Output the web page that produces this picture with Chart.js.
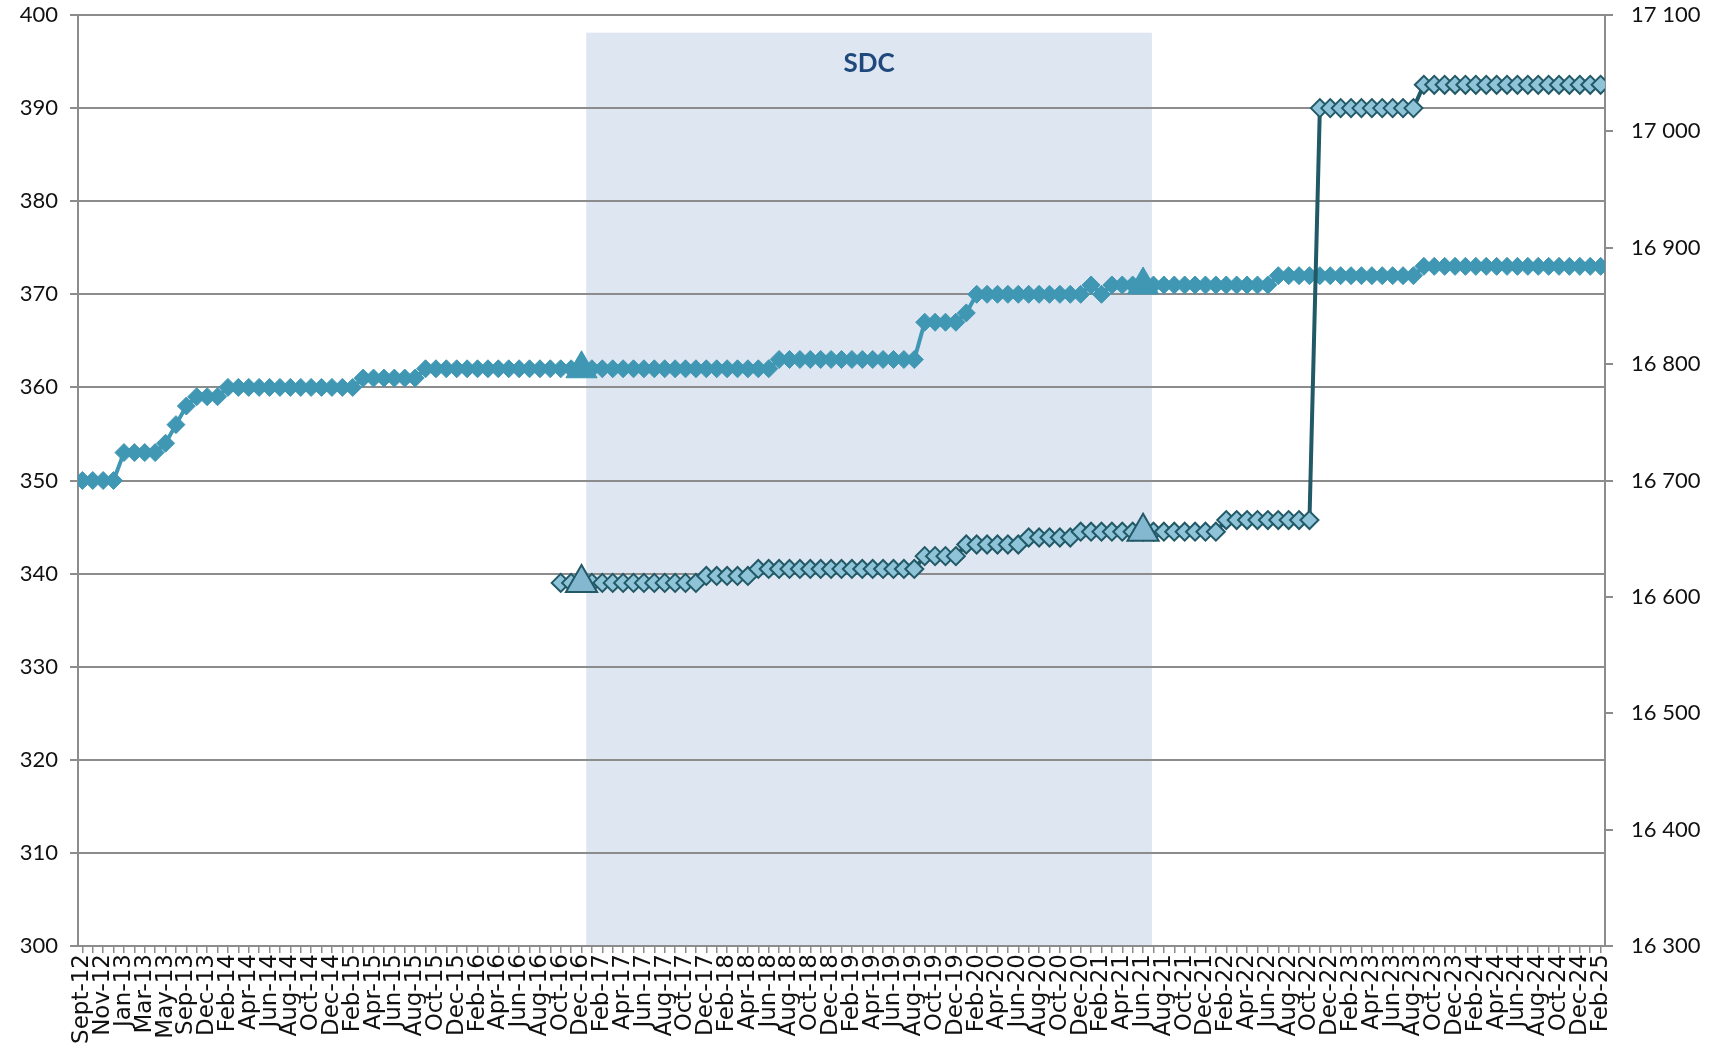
<!DOCTYPE html>
<html>
<head>
<meta charset="utf-8">
<script src="https://cdn.jsdelivr.net/npm/chart.js@4.4.1/dist/chart.umd.min.js"></script>
<style>
  html, body { margin: 0; padding: 0; background: #fff; }
  #wrap { width: 1711px; height: 1046px; }
</style>
</head>
<body>
<div id="wrap"><canvas id="chart"></canvas></div>
<script>
// month labels, one per data point (only every other one is printed)
const categories = [
    'Sept-12', 'Oct-12', 'Nov-12', 'Dec-12', 'Jan-13', 'Feb-13', 'Mar-13', 'Apr-13', 'May-13', 'Jul-13', 'Sep-13', 'Oct-13',
    'Dec-13',
    'Jan-14', 'Feb-14', 'Mar-14', 'Apr-14', 'May-14', 'Jun-14', 'Jul-14', 'Aug-14', 'Sep-14', 'Oct-14', 'Nov-14', 'Dec-14',
    'Jan-15', 'Feb-15', 'Mar-15', 'Apr-15', 'May-15', 'Jun-15', 'Jul-15', 'Aug-15', 'Sep-15', 'Oct-15', 'Nov-15', 'Dec-15',
    'Jan-16', 'Feb-16', 'Mar-16', 'Apr-16', 'May-16', 'Jun-16', 'Jul-16', 'Aug-16', 'Sep-16', 'Oct-16', 'Nov-16', 'Dec-16',
    'Jan-17', 'Feb-17', 'Mar-17', 'Apr-17', 'May-17', 'Jun-17', 'Jul-17', 'Aug-17', 'Sep-17', 'Oct-17', 'Nov-17', 'Dec-17',
    'Jan-18', 'Feb-18', 'Mar-18', 'Apr-18', 'May-18', 'Jun-18', 'Jul-18', 'Aug-18', 'Sep-18', 'Oct-18', 'Nov-18', 'Dec-18',
    'Jan-19', 'Feb-19', 'Mar-19', 'Apr-19', 'May-19', 'Jun-19', 'Jul-19', 'Aug-19', 'Sep-19', 'Oct-19', 'Nov-19', 'Dec-19',
    'Jan-20', 'Feb-20', 'Mar-20', 'Apr-20', 'May-20', 'Jun-20', 'Jul-20', 'Aug-20', 'Sep-20', 'Oct-20', 'Nov-20', 'Dec-20',
    'Jan-21', 'Feb-21', 'Mar-21', 'Apr-21', 'May-21', 'Jun-21', 'Jul-21', 'Aug-21', 'Sep-21', 'Oct-21', 'Nov-21', 'Dec-21',
    'Jan-22', 'Feb-22', 'Mar-22', 'Apr-22', 'May-22', 'Jun-22', 'Jul-22', 'Aug-22', 'Sep-22', 'Oct-22', 'Nov-22', 'Dec-22',
    'Jan-23', 'Feb-23', 'Mar-23', 'Apr-23', 'May-23', 'Jun-23', 'Jul-23', 'Aug-23', 'Sep-23', 'Oct-23', 'Nov-23', 'Dec-23',
    'Jan-24', 'Feb-24', 'Mar-24', 'Apr-24', 'May-24', 'Jun-24', 'Jul-24', 'Aug-24', 'Sep-24', 'Oct-24', 'Nov-24', 'Dec-24',
    'Jan-25', 'Feb-25'
];

// upper series, left axis
const upperValues = [
    350, 350, 350, 350, 353, 353, 353, 353, 354, 356, 358, 359,
    359,
    359, 360, 360, 360, 360, 360, 360, 360, 360, 360, 360, 360,
    360, 360, 361, 361, 361, 361, 361, 361, 362, 362, 362, 362,
    362, 362, 362, 362, 362, 362, 362, 362, 362, 362, 362, 362,
    362, 362, 362, 362, 362, 362, 362, 362, 362, 362, 362, 362,
    362, 362, 362, 362, 362, 362, 363, 363, 363, 363, 363, 363,
    363, 363, 363, 363, 363, 363, 363, 363, 367, 367, 367, 367,
    368, 370, 370, 370, 370, 370, 370, 370, 370, 370, 370, 370,
    371, 370, 371, 371, 371, 371, 371, 371, 371, 371, 371, 371,
    371, 371, 371, 371, 371, 371, 372, 372, 372, 372, 372, 372,
    372, 372, 372, 372, 372, 372, 372, 372, 373, 373, 373, 373,
    373, 373, 373, 373, 373, 373, 373, 373, 373, 373, 373, 373,
    373, 373
];

// lower series, right axis
const lowerValues = [
    null, null, null, null, null, null, null, null, null, null, null, null,
    null,
    null, null, null, null, null, null, null, null, null, null, null, null,
    null, null, null, null, null, null, null, null, null, null, null, null,
    null, null, null, null, null, null, null, null, null, 16612, 16612, 16612,
    16612, 16612, 16612, 16612, 16612, 16612, 16612, 16612, 16612, 16612, 16612, 16618,
    16618, 16618, 16618, 16618, 16624, 16624, 16624, 16624, 16624, 16624, 16624, 16624,
    16624, 16624, 16624, 16624, 16624, 16624, 16624, 16624, 16635, 16635, 16635, 16635,
    16645, 16645, 16645, 16645, 16645, 16645, 16651, 16651, 16651, 16651, 16651, 16656,
    16656, 16656, 16656, 16656, 16656, 16656, 16656, 16656, 16656, 16656, 16656, 16656,
    16656, 16666, 16666, 16666, 16666, 16666, 16666, 16666, 16666, 16666, 17020, 17020,
    17020, 17020, 17020, 17020, 17020, 17020, 17020, 17020, 17040, 17040, 17040, 17040,
    17040, 17040, 17040, 17040, 17040, 17040, 17040, 17040, 17040, 17040, 17040, 17040,
    17040, 17040
];

// points drawn as triangles on both series
const milestones = ['Dec-16', 'Jun-21'];

// shaded SDC period
const sdcLabel = 'SDC';
const sdcFrom = 'Dec-16';
const sdcTo = 'Jun-21';

const leftTicks = { min: 300, max: 400, step: 10 };
const rightTicks = { min: 16300, max: 17100, step: 100 };

const GRID = '#8c8c8c';
const TEAL = '#3f97b3';
const DARK = '#215967';
const LIGHT = '#8ec3d8';

function toPoints(values) {
    return values.map((v, i) => ({ x: i, y: v })).filter(p => p.y !== null);
}
function milestonePoints(values) {
    return milestones.map(m => {
        const i = categories.indexOf(m);
        return { x: i, y: values[i] };
    });
}
function spaced(v) {
    return String(v).replace(/\B(?=(\d{3})+(?!\d))/g, ' ');
}
// fixed size for an axis, and no extra room around it for its labels
function fixAxis(width, height) {
    return s => {
        if (width) s.width = width;
        if (height) s.height = height;
        s.paddingTop = 0;
        s.paddingBottom = 0;
    };
}

// draws the light blue SDC box under the grid
const sdcBand = {
    id: 'sdcBand',
    beforeDraw(chart) {
        const { ctx, chartArea, scales } = chart;
        const x0 = scales.x.getPixelForValue(categories.indexOf(sdcFrom) + 0.45);
        const x1 = scales.x.getPixelForValue(categories.indexOf(sdcTo) + 0.85);
        const yTop = scales.y.getPixelForValue(398.1);
        ctx.save();
        ctx.fillStyle = '#dee6f2';
        ctx.fillRect(x0, yTop, x1 - x0, chartArea.bottom - yTop);
        ctx.fillStyle = '#1f497d';
        ctx.font = 'bold 26px Lato';
        ctx.textAlign = 'center';
        ctx.textBaseline = 'middle';
        ctx.fillText(sdcLabel, (x0 + x1) / 2, yTop + 31);
        ctx.restore();
    }
};

const ctx = document.getElementById('chart').getContext('2d');
new Chart(ctx, {
    type: 'line',
    data: {
        datasets: [
            {
                // lower series triangles (on top)
                data: milestonePoints(lowerValues),
                yAxisID: 'y2',
                showLine: false,
                pointStyle: 'triangle',
                pointRadius: 18,
                pointBackgroundColor: '#84b8d0',
                pointBorderColor: DARK,
                pointBorderWidth: 2
            },
            {
                data: toPoints(lowerValues),
                yAxisID: 'y2',
                borderColor: DARK,
                borderWidth: 4,
                pointStyle: 'rectRot',
                pointRadius: 9,
                pointBackgroundColor: LIGHT,
                pointBorderColor: DARK,
                pointBorderWidth: 2
            },
            {
                data: milestonePoints(upperValues),
                yAxisID: 'y',
                showLine: false,
                pointStyle: 'triangle',
                pointRadius: 18,
                pointBackgroundColor: TEAL,
                pointBorderColor: TEAL,
                pointBorderWidth: 1
            },
            {
                data: toPoints(upperValues),
                yAxisID: 'y',
                borderColor: TEAL,
                borderWidth: 4,
                pointStyle: 'rectRot',
                pointRadius: 9,
                pointBackgroundColor: TEAL,
                pointBorderColor: TEAL,
                pointBorderWidth: 1
            }
        ]
    },
    options: {
        responsive: true,
        maintainAspectRatio: false,
        animation: false,
        layout: { autoPadding: false, padding: { top: 15, left: 0, right: 0, bottom: 0 } },
        plugins: { legend: { display: false }, tooltip: { enabled: false } },
        scales: {
            x: {
                type: 'linear',
                min: -0.42,
                max: categories.length - 1 + 0.42,
                afterFit: fixAxis(0, 100),
                grid: { drawOnChartArea: false, tickLength: 7, color: GRID, lineWidth: 1.5 },
                border: { color: GRID, width: 2 },
                ticks: {
                    stepSize: 1,
                    autoSkip: false,
                    maxTicksLimit: 1000,
                    includeBounds: false,
                    minRotation: 90,
                    maxRotation: 90,
                    padding: 1,
                    color: '#111',
                    font: { family: 'DejaVu Sans', size: 23 },
                    callback: v => (Number.isInteger(v) && v % 2 === 0) ? categories[v] : ''
                }
            },
            y: {
                position: 'left',
                min: leftTicks.min,
                max: leftTicks.max,
                afterFit: fixAxis(78, 0),
                grid: { color: GRID, lineWidth: 2, tickLength: 8 },
                border: { color: GRID, width: 2 },
                ticks: {
                    stepSize: leftTicks.step,
                    padding: 12,
                    color: '#111',
                    font: { family: 'Lato', size: 22 }
                }
            },
            y2: {
                position: 'right',
                min: rightTicks.min,
                max: rightTicks.max,
                afterFit: fixAxis(106, 0),
                grid: { drawOnChartArea: false, color: GRID, lineWidth: 2, tickLength: 8 },
                border: { color: GRID, width: 2 },
                ticks: {
                    stepSize: rightTicks.step,
                    padding: 18,
                    color: '#111',
                    font: { family: 'Lato', size: 22 },
                    callback: v => spaced(v)
                }
            }
        }
    },
    plugins: [sdcBand]
});
</script>
</body>
</html>
